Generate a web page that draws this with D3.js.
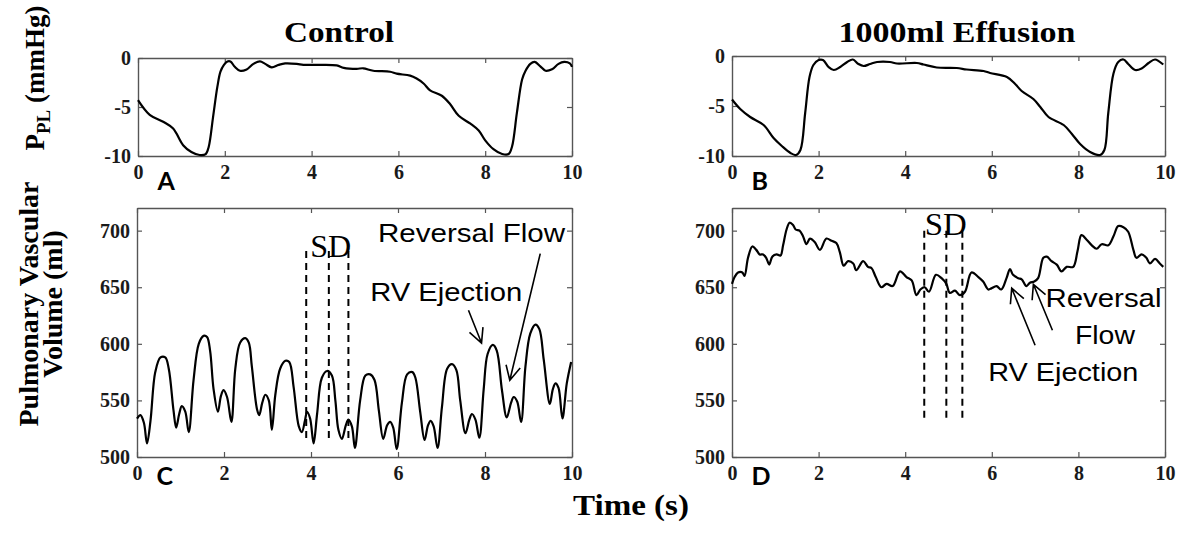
<!DOCTYPE html>
<html><head><meta charset="utf-8">
<script src="https://cdn.jsdelivr.net/npm/d3@7"></script>
<style>body{margin:0;background:#fff}</style>
</head><body>
<svg id="chart" width="1200" height="534"></svg>
<script>
// ---------- data ----------
const timeTicks = [0, 2, 4, 6, 8, 10];
const pplTicks = [-10, -5, 0];
const volumeTicks = [500, 550, 600, 650, 700];
const panelTitles = ["Control", "1000ml Effusion"];
const panelLetters = ["A", "B", "C", "D"];

// Panel A: pleural pressure, control
const pplControlTime = [0,0.27,0.58,0.81,1.04,1.23,1.42,1.56,1.63,1.73,1.83,1.90,1.98,2.06,2.13,2.23,2.35,2.49,2.66,2.81,2.93,3.08,3.24,3.39,3.66,3.81,4.12,4.58,4.74,5.04,5.19,5.42,5.81,5.96,6.27,6.42,6.58,6.73,7.0,7.19,7.39,7.66,7.85,8.0,8.19,8.39,8.54,8.62,8.73,8.85,8.93,9.04,9.14,9.27,9.39,9.54,9.69,9.82,9.95,10];
const pplControlValue = [-4.3,-5.8,-6.5,-7.2,-8.9,-9.6,-9.9,-9.8,-9.05,-6.0,-2.9,-1.4,-0.7,-0.35,-0.35,-0.9,-1.3,-1.2,-0.6,-0.35,-0.6,-0.95,-0.7,-0.55,-0.6,-0.7,-0.7,-0.75,-1.0,-1.1,-1.05,-1.3,-1.4,-1.6,-1.8,-2.1,-2.6,-3.3,-3.85,-4.7,-5.9,-6.7,-7.4,-8.4,-9.3,-9.8,-9.8,-9.0,-5.6,-2.2,-1.3,-0.6,-0.4,-0.85,-1.3,-1.15,-0.6,-0.4,-0.55,-0.9];

// Panel B: pleural pressure, 1000 ml effusion
const pplEffusionTime = [0,0.19,0.42,0.73,0.96,1.15,1.35,1.48,1.58,1.69,1.79,1.88,2.0,2.1,2.23,2.35,2.5,2.66,2.79,2.92,3.04,3.19,3.35,3.65,3.81,4.27,4.42,4.73,5.19,5.42,5.81,5.96,6.35,6.54,6.69,6.96,7.12,7.31,7.66,7.85,8.04,8.27,8.5,8.6,8.69,8.81,8.92,9.04,9.15,9.31,9.46,9.62,9.77,9.96];
const pplEffusionValue = [-4.35,-5.3,-6.1,-6.9,-8.2,-9.0,-9.7,-9.9,-9.4,-5.7,-2.1,-0.9,-0.4,-0.4,-1.1,-1.4,-1.1,-0.6,-0.35,-0.8,-1.0,-0.8,-0.6,-0.6,-0.75,-0.7,-0.85,-1.15,-1.2,-1.35,-1.5,-1.7,-2.1,-2.8,-3.5,-4.3,-5.1,-6.1,-6.9,-7.8,-8.8,-9.6,-9.9,-9.4,-5.7,-1.75,-0.6,-0.35,-0.8,-1.4,-1.25,-0.7,-0.35,-0.85];

// Panel C: pulmonary vascular volume, control
const volControlTime = [0,0.08,0.16,0.23,0.31,0.42,0.54,0.65,0.73,0.84,0.90,0.97,1.03,1.11,1.19,1.30,1.42,1.53,1.61,1.68,1.76,1.86,1.93,1.99,2.07,2.17,2.26,2.37,2.49,2.57,2.64,2.76,2.81,2.88,2.95,3.03,3.10,3.18,3.29,3.41,3.50,3.60,3.72,3.79,3.86,3.91,3.98,4.06,4.14,4.25,4.37,4.48,4.56,4.63,4.71,4.80,4.86,4.94,5.01,5.13,5.25,5.36,5.46,5.56,5.66,5.75,5.82,5.89,5.97,6.09,6.21,6.33,6.40,6.51,6.61,6.69,6.75,6.82,6.91,7.01,7.13,7.24,7.34,7.43,7.55,7.64,7.70,7.78,7.87,7.97,8.06,8.18,8.27,8.39,8.50,8.60,8.66,8.74,8.83,8.93,9.04,9.16,9.25,9.35,9.49,9.56,9.62,9.69,9.78,9.88,9.98];
const volControlValue = [534,537,530,512,532,575,588,588,578,541,526,538,545,540,522,568,600,607,606,594,560,540,554,559,553,531,578,601,605,601,580,542,537,548,555,550,524,555,578,585,584,562,527,522,532,540,534,512,538,570,576,572,550,524,516,528,533,527,508,550,572,573,568,541,516,528,531,526,507,548,573,575,570,540,515,528,532,527,508,544,578,582,577,550,521,533,538,533,517,560,591,599,594,559,535,548,553,549,531,580,609,617,613,586,547,560,565,561,534,565,584];

// Panel D: pulmonary vascular volume, 1000 ml effusion
const volEffusionTime = [0,0.06,0.14,0.24,0.29,0.37,0.47,0.56,0.64,0.72,0.79,0.86,0.93,1.03,1.12,1.18,1.26,1.33,1.41,1.47,1.56,1.64,1.72,1.80,1.91,2.03,2.18,2.30,2.41,2.49,2.58,2.68,2.80,2.87,3.03,3.14,3.22,3.32,3.45,3.57,3.71,3.88,4.03,4.15,4.26,4.35,4.45,4.55,4.71,4.84,4.95,5.03,5.15,5.26,5.38,5.53,5.69,5.80,5.92,5.99,6.11,6.22,6.34,6.42,6.49,6.61,6.69,6.80,6.88,6.98,7.07,7.19,7.27,7.38,7.50,7.61,7.73,7.88,7.98,8.07,8.19,8.31,8.42,8.54,8.69,8.81,8.92,9.04,9.15,9.27,9.34,9.46,9.57,9.65,9.77,9.88,9.96];
const volEffusionValue = [653,659,663,663,660,676,686,683,679,679,676,670,677,679,678,687,701,707,705,701,700,695,688,693,690,683,693,691,689,681,669,673,671,665,673,668,667,659,650,653,651,664,659,656,643,648,650,646,661,658,653,645,647,643,646,663,659,655,648,649,651,648,658,666,661,658,657,651,654,655,658,676,677,673,670,664,668,668,682,696,692,687,684,688,687,695,704,703,699,683,676,679,676,671,675,671,668];

// ---------- layout ----------
const svg = d3.select("#chart");
svg.append("rect").attr("width",1200).attr("height",534).attr("fill","#fff");

const panels = [
  {letter: panelLetters[0], box:{x0:138,x1:572,y0:58,y1:156}, yDomain:[-10,0], yTicks:pplTicks, t:pplControlTime, v:pplControlValue},
  {letter: panelLetters[1], box:{x0:732,x1:1165,y0:56,y1:156}, yDomain:[-10,0], yTicks:pplTicks, t:pplEffusionTime, v:pplEffusionValue},
  {letter: panelLetters[2], box:{x0:137,x1:572,y0:208,y1:457}, yDomain:[500,720], yTicks:volumeTicks, t:volControlTime, v:volControlValue},
  {letter: panelLetters[3], box:{x0:732,x1:1165,y0:208,y1:457}, yDomain:[500,720], yTicks:volumeTicks, t:volEffusionTime, v:volEffusionValue}
];

const serif = "'Liberation Serif','Times New Roman',serif";
const sans = "'Liberation Sans',Arial,sans-serif";
const scales = [];

panels.forEach((p, i) => {
  const b = p.box;
  const x = d3.scaleLinear().domain([0,10]).range([b.x0,b.x1]);
  const y = d3.scaleLinear().domain(p.yDomain).range([b.y1,b.y0]);
  scales.push({x,y});
  const g = svg.append("g");
  const fmt = d => String(d);
  const style = sel => {
    sel.selectAll(".domain").attr("stroke","#555").attr("stroke-width",1.4);
    sel.selectAll(".tick line").attr("stroke","#555").attr("stroke-width",1.2);
    sel.selectAll("text").attr("font-family",serif).attr("font-weight","bold").attr("font-size",20).attr("fill","#1a1a1a");
  };
  g.append("g").attr("transform",`translate(0,${b.y1})`)
    .call(d3.axisBottom(x).tickValues(timeTicks).tickSizeInner(-5).tickSizeOuter(0).tickPadding(9).tickFormat(fmt)).call(style);
  g.append("g").attr("transform",`translate(0,${b.y0})`)
    .call(d3.axisTop(x).tickValues(timeTicks).tickSizeInner(-5).tickSizeOuter(0).tickFormat(()=>"")).call(style);
  g.append("g").attr("transform",`translate(${b.x0},0)`)
    .call(d3.axisLeft(y).tickValues(p.yTicks).tickSizeInner(-5).tickSizeOuter(0).tickPadding(7).tickFormat(fmt)).call(style);
  g.append("g").attr("transform",`translate(${b.x1},0)`)
    .call(d3.axisRight(y).tickValues(p.yTicks).tickSizeInner(-5).tickSizeOuter(0).tickFormat(()=>"")).call(style);

  const pts = p.t.map((t,k)=>[t,p.v[k]]);
  const line = d3.line().x(d=>x(d[0])).y(d=>y(d[1])).curve(d3.curveCatmullRom.alpha(0.5));
  g.append("path").attr("d",line(pts)).attr("fill","none").attr("stroke","#000").attr("stroke-width",2.2).attr("stroke-linejoin","round");

  // panel letter
  g.append("text").attr("x",x(0.45)).attr("y",b.y1+(i<2?34:28)).text(p.letter)
    .attr("font-family","Lato,'Open Sans',sans-serif").attr("font-weight","bold").attr("font-size",25).attr("fill","#000");
});

// titles
svg.append("text").attr("x",339).attr("y",42).attr("text-anchor","middle").text(panelTitles[0])
  .attr("font-family",serif).attr("font-weight","bold").attr("font-size",30).attr("textLength",110).attr("lengthAdjust","spacingAndGlyphs");
svg.append("text").attr("x",957).attr("y",42).attr("text-anchor","middle").text(panelTitles[1])
  .attr("font-family",serif).attr("font-weight","bold").attr("font-size",30).attr("textLength",237).attr("lengthAdjust","spacingAndGlyphs");

// x label
svg.append("text").attr("x",631).attr("y",515).attr("text-anchor","middle").text("Time (s)")
  .attr("font-family",serif).attr("font-weight","bold").attr("font-size",30).attr("textLength",116).attr("lengthAdjust","spacingAndGlyphs");

// y labels
const yl = svg.append("text").attr("transform","translate(44,78) rotate(-90)").attr("text-anchor","middle")
  .attr("font-family",serif).attr("font-weight","bold").attr("font-size",27);
yl.append("tspan").text("P");
yl.append("tspan").attr("font-size",19).attr("dy",6).text("PL");
yl.append("tspan").attr("dy",-6).text(" (mmHg)");
svg.append("text").attr("transform","translate(38,304) rotate(-90)").attr("text-anchor","middle").text("Pulmonary Vascular")
  .attr("font-family",serif).attr("font-weight","bold").attr("font-size",28);
svg.append("text").attr("transform","translate(62,304) rotate(-90)").attr("text-anchor","middle").text("Volume (ml)")
  .attr("font-family",serif).attr("font-weight","bold").attr("font-size",28);

// ---------- annotations (data units) ----------
const sdMarksControl = [3.89, 4.41, 4.86];
const sdMarksEffusion = [4.44, 4.95, 5.32];

function dashed(si, times, top, bottom){
  const {x,y} = scales[si];
  times.forEach(t=>{
    svg.append("line").attr("x1",x(t)).attr("x2",x(t)).attr("y1",y(top)).attr("y2",y(bottom))
      .attr("stroke","#000").attr("stroke-width",2).attr("stroke-dasharray","7,5");
  });
}
dashed(2, sdMarksControl, 682, 513);
dashed(3, sdMarksEffusion, 700, 532);

function label(si, t, v, txt, font, size, len){
  const {x,y} = scales[si];
  const e = svg.append("text").attr("x",x(t)).attr("y",y(v)).text(txt)
    .attr("font-family",font).attr("font-size",size).attr("fill","#000");
  if(len) e.attr("textLength",len).attr("lengthAdjust","spacingAndGlyphs");
}
label(2, 3.98, 676.7, "SD", serif, 32, 41);
label(2, 5.54, 690, "Reversal Flow", sans, 26, 187);
label(2, 5.36, 637.8, "RV Ejection", sans, 26, 152);
label(3, 4.45, 696.2, "SD", serif, 32, 42);
label(3, 7.24, 632.5, "Reversal", sans, 26, 116);
label(3, 7.92, 600.2, "Flow", sans, 26, 60);
label(3, 5.92, 567.2, "RV Ejection", sans, 26, 150);

function arrow(si, from, to){
  const {x,y} = scales[si];
  const x1=x(from[0]), y1=y(from[1]), x2=x(to[0]), y2=y(to[1]);
  const a = Math.atan2(y1-y2, x1-x2), L=16, s=27*Math.PI/180;
  const path = `M${x1},${y1}L${x2},${y2}M${x2+L*Math.cos(a+s)},${y2+L*Math.sin(a+s)}L${x2},${y2}L${x2+L*Math.cos(a-s)},${y2+L*Math.sin(a-s)}`;
  svg.append("path").attr("d",path).attr("fill","none").attr("stroke","#000").attr("stroke-width",1.6);
}
arrow(2, [7.62,629.6], [7.92,600.7]);
arrow(2, [9.27,679.7], [8.57,567.8]);
arrow(3, [7.0,598.7], [6.46,649.1]);
arrow(3, [7.40,612], [6.96,652.6]);
</script>
</body></html>
